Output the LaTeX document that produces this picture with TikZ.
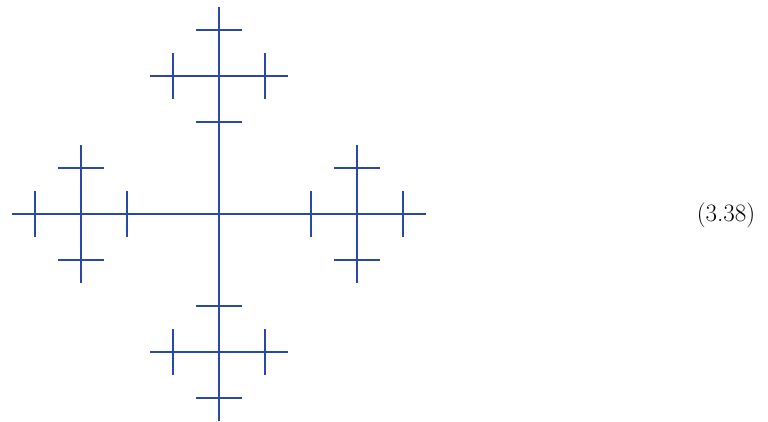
\documentclass[tikz,border=0pt]{standalone}
\usepackage{fontspec}
\usepackage{tikz}
\usetikzlibrary{calc}

\definecolor{treeblue}{RGB}{42,72,165}

% arm length of the big cross (in px of the reference)
\newcommand{\armL}{207}

\begin{document}
\begin{tikzpicture}[
        x=1pt, y=1pt,
        tree/.style={draw=treeblue, line width=1.1pt}
    ]
    \useasboundingbox (0,0) rectangle (768,421);

    % big cross
    \coordinate (c) at (219,207);
    \draw[tree] (c) +(-\armL,0) -- +(\armL,0);
    \draw[tree] (c) +(0,-\armL) -- +(0,\armL);

    % four crosses of a third, each with four small ones
    \foreach \a in {0,90,180,270} {
        \coordinate (s\a) at ($(c)+(\a:2*\armL/3)$);
        \draw[tree] (s\a) +(-\armL/3,0) -- +(\armL/3,0);
        \draw[tree] (s\a) +(0,-\armL/3) -- +(0,\armL/3);
        \foreach \b in {0,90,180,270} {
            \coordinate (t\a\b) at ($(s\a)+(\b:2*\armL/9)$);
            \draw[tree] (t\a\b) +(-\armL/9,0) -- +(\armL/9,0);
            \draw[tree] (t\a\b) +(0,-\armL/9) -- +(0,\armL/9);
        }
    }

    \node[font=\fontsize{25}{29}\selectfont] (eqnum) at (726,206) {(3.38)};
\end{tikzpicture}
\end{document}
